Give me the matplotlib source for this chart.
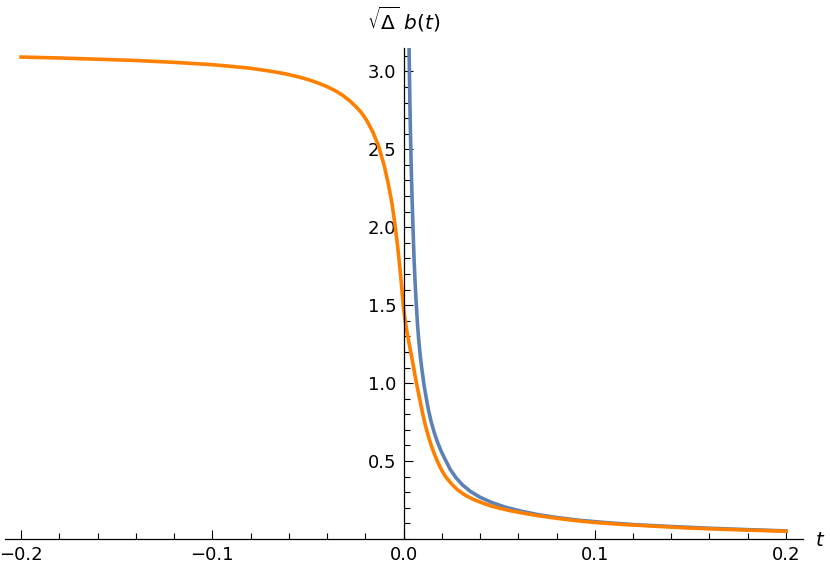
import numpy as np
import matplotlib
matplotlib.use("Agg")
import matplotlib.pyplot as plt
from matplotlib.ticker import MultipleLocator, FixedLocator

# blue curve (only t > 0)
blue_t = [0.0028, 0.0030, 0.0033, 0.0036, 0.0040, 0.0045, 0.0050, 0.0055, 0.0060,
          0.0066, 0.0073, 0.0080, 0.0088, 0.0097, 0.0107, 0.0118, 0.0130, 0.0144,
          0.0160, 0.0178, 0.0198, 0.0220, 0.0245, 0.0275, 0.0310, 0.0350, 0.0400,
          0.0460, 0.0530, 0.0610, 0.0700, 0.0800, 0.0920, 0.1060, 0.1220, 0.1400,
          0.1600, 0.1800, 0.2000]
blue_v = [3.25, 3.06, 2.82, 2.62, 2.40, 2.17, 1.98, 1.80, 1.66,
          1.52, 1.38, 1.27, 1.17, 1.08, 0.99, 0.91, 0.83, 0.755,
          0.685, 0.62, 0.56, 0.505, 0.445, 0.392, 0.345, 0.305, 0.268,
          0.235, 0.205, 0.180, 0.157, 0.138, 0.120, 0.105, 0.091, 0.080,
          0.069, 0.060, 0.052]

# orange curve over the whole range
orange_t = [-0.200, -0.180, -0.160, -0.140, -0.120, -0.100, -0.090, -0.080,
            -0.070, -0.062, -0.055, -0.050, -0.045, -0.040, -0.036, -0.032,
            -0.028, -0.025, -0.022, -0.019, -0.016, -0.013, -0.010, -0.008,
            -0.006, -0.0045, -0.003, -0.0015, 0.000, 0.001, 0.002, 0.003,
            0.004, 0.005, 0.006, 0.007, 0.008, 0.009, 0.010, 0.0115,
            0.013, 0.0145, 0.016, 0.018, 0.020, 0.022, 0.025, 0.028,
            0.032, 0.036, 0.040, 0.045, 0.050, 0.056, 0.063, 0.070,
            0.080, 0.090, 0.100, 0.115, 0.130, 0.150, 0.175, 0.200]
orange_v = [3.092, 3.086, 3.078, 3.070, 3.058, 3.043, 3.032, 3.020,
            3.002, 2.985, 2.965, 2.948, 2.927, 2.902, 2.878, 2.848,
            2.810, 2.775, 2.735, 2.680, 2.610, 2.520, 2.390, 2.280,
            2.150, 2.020, 1.870, 1.690, 1.480, 1.390, 1.315, 1.250,
            1.185, 1.120, 1.050, 0.985, 0.925, 0.865, 0.805, 0.725,
            0.660, 0.600, 0.550, 0.490, 0.440, 0.400, 0.355, 0.318,
            0.283, 0.257, 0.237, 0.215, 0.198, 0.181, 0.165, 0.150,
            0.133, 0.118, 0.106, 0.093, 0.083, 0.070, 0.059, 0.050]

x_major = [-0.2, -0.1, 0.0, 0.1, 0.2]
x_labels = ["\u22120.2", "\u22120.1", "0.0", "0.1", "0.2"]
y_major = [0.5, 1.0, 1.5, 2.0, 2.5, 3.0]
y_labels = ["0.5", "1.0", "1.5", "2.0", "2.5", "3.0"]

fig = plt.figure(figsize=(8.3, 5.75), dpi=100)
ax = fig.add_axes([5 / 830, 36 / 575, 798 / 830, 491 / 575])

ax.plot(blue_t, blue_v, color="#5E81B5", lw=2.6, solid_joinstyle="round")
ax.plot(orange_t, orange_v, color="#FF8000", lw=2.6, solid_joinstyle="round")

ax.set_xlim(-0.2084, 0.2089)
ax.set_ylim(0, 3.15)

ax.spines["top"].set_visible(False)
ax.spines["right"].set_visible(False)
ax.spines["left"].set_position(("data", 0))
for s in ("left", "bottom"):
    ax.spines[s].set_linewidth(0.9)

ax.xaxis.set_major_locator(FixedLocator(x_major))
ax.set_xticklabels(x_labels)
ax.xaxis.set_minor_locator(MultipleLocator(0.02))
ax.yaxis.set_major_locator(FixedLocator(y_major))
ax.set_yticklabels(y_labels)
ax.yaxis.set_minor_locator(MultipleLocator(0.1))

ax.tick_params(which="both", direction="in", width=0.8, labelsize=13)
ax.tick_params(which="major", length=6.5)
ax.tick_params(which="minor", length=4)
ax.tick_params(axis="x", pad=5)
ax.tick_params(axis="y", pad=5)

ax.text(0.0, 3.24, r"$\sqrt{\Delta}\ b(t)$", ha="center", va="bottom",
        fontsize=14.5, transform=ax.transData, clip_on=False)
fig.text(820 / 830, 1 - 540 / 575, r"$t$", ha="center", va="center", fontsize=14)

plt.savefig("out.png", dpi=100)
